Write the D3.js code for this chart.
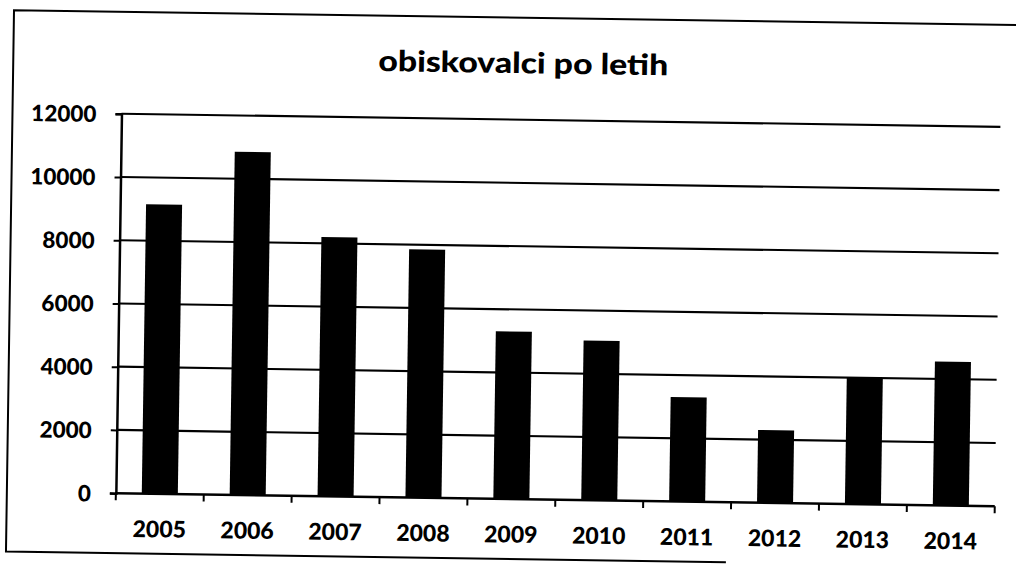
<!DOCTYPE html>
<html>
<head>
<meta charset="utf-8">
<script src="https://cdn.jsdelivr.net/npm/d3@7/dist/d3.min.js"></script>
<style>
  html, body { margin: 0; padding: 0; background: #fff; }
  svg { display: block; }
  text { font-family: Lato, "Open Sans", sans-serif; fill: #000; }
</style>
</head>
<body>
<script>
// ---- data ----
const years = ["2005","2006","2007","2008","2009","2010","2011","2012","2013","2014"];
const visitors = [9150, 10850, 8200, 7850, 5300, 5050, 3300, 2300, 4000, 4550];
const yTicks = [0, 2000, 4000, 6000, 8000, 10000, 12000];
const chartTitle = "obiskovalci po letih";

// ---- layout ----
const W = 1016, H = 569;
const plotL = 119, plotR = 998, plotT = 119.5, plotB = 499;

const svg = d3.select("body").append("svg")
  .attr("width", W).attr("height", H);

svg.append("rect").attr("width", W).attr("height", H).attr("fill", "#fff");

// the scanned page is slightly rotated
const g = svg.append("g").attr("transform", "rotate(0.85 508 284)");

// outer frame (right side lies beyond the picture)
const frame = g.append("g").attr("stroke", "#000").attr("stroke-width", 2).attr("fill", "none");
frame.append("path").attr("d", "M1060,17.5 L10,17.5 L10,559 L730,559");

const x = d3.scaleBand().domain(years).range([plotL, plotR])
  .paddingInner(0.59).paddingOuter(0.295);
const y = d3.scaleLinear().domain([0, 12000]).range([plotB, plotT]);

// gridlines
g.append("g").selectAll("line").data(yTicks.filter(d => d > 0)).join("line")
  .attr("x1", plotL).attr("x2", plotR)
  .attr("y1", d => y(d)).attr("y2", d => y(d))
  .attr("stroke", "#000").attr("stroke-width", 2.2);

// bars
g.append("g").selectAll("rect").data(years).join("rect")
  .attr("x", d => x(d))
  .attr("width", x.bandwidth())
  .attr("y", (d, i) => y(visitors[i]))
  .attr("height", (d, i) => y(0) - y(visitors[i]))
  .attr("fill", "#000");

// y axis
const yAxis = d3.axisLeft(y).tickValues(yTicks).tickSize(6).tickPadding(19)
  .tickFormat(d3.format("d"));
const ya = g.append("g").attr("transform", `translate(${plotL},0)`).call(yAxis);
ya.select(".domain").attr("stroke", "#000").attr("stroke-width", 2.5);
ya.selectAll(".tick line").attr("stroke", "#000").attr("stroke-width", 2);
ya.selectAll(".tick text")
  .style("font-size", "22.5px").style("font-weight", 900)
  .style("font-family", "Lato, 'Open Sans', sans-serif")
  .attr("fill", "#000")
  .attr("dy", "0.36em");

// x axis: ticks at category boundaries
const step = x.step();
const bounds = d3.range(years.length + 1).map(i => plotL + i * step);
g.append("line")
  .attr("x1", plotL).attr("x2", plotR)
  .attr("y1", plotB).attr("y2", plotB)
  .attr("stroke", "#000").attr("stroke-width", 2.5);
g.append("g").selectAll("line").data(bounds).join("line")
  .attr("x1", d => d).attr("x2", d => d)
  .attr("y1", plotB).attr("y2", plotB + 7)
  .attr("stroke", "#000").attr("stroke-width", 2);
g.append("g").selectAll("text").data(years).join("text")
  .attr("x", d => x(d) + x.bandwidth() / 2)
  .attr("y", 542.5)
  .attr("text-anchor", "middle")
  .style("font-size", "23px").style("font-weight", 900)
  .text(d => d);

// title
g.append("text")
  .attr("x", 520).attr("y", 73)
  .attr("text-anchor", "middle")
  .attr("textLength", 290).attr("lengthAdjust", "spacingAndGlyphs")
  .style("font-size", "29px").style("font-weight", 900)
  .text(chartTitle);
</script>
</body>
</html>
